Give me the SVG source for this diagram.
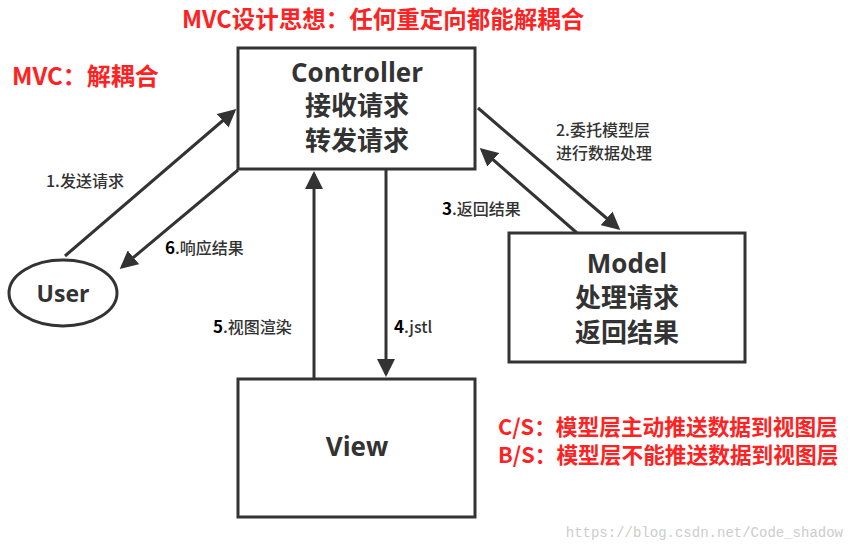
<svg xmlns="http://www.w3.org/2000/svg" width="856" height="551" viewBox="0 0 856 551">
<style>
.b{fill:#fff;stroke:#333;stroke-width:3}
.t{font-family:"Open Sans","Noto Sans CJK SC",sans-serif;font-weight:bold;fill:#333;text-anchor:middle}
.l{font-family:"Noto Sans CJK SC",sans-serif;font-size:16px;font-weight:500;fill:#333}
.r{font-family:"Noto Sans CJK SC",sans-serif;font-weight:bold;fill:#f22}
.c{stroke:#333;stroke-width:3;fill:none;marker-end:url(#a)}
</style>
<defs><marker id="a" markerWidth="6" markerHeight="6" refX="5" refY="3" orient="auto"><path d="M0,0L6,3L0,6z" fill="#333"/></marker></defs>
<rect width="856" height="551" fill="#fff"/>
<text class="r" x="182" y="28" font-size="23.5">MVC设计思想：任何重定向都能解耦合</text>
<text class="r" x="12" y="85" font-size="24">MVC：解耦合</text>
<g id="controller"><rect class="b" x="238" y="48" width="237" height="121"/>
<text class="t" x="357" y="82" font-size="26">Controller</text>
<text class="t" x="357" y="115" font-size="26">接收请求</text>
<text class="t" x="357" y="150" font-size="26">转发请求</text></g>
<g id="model"><rect class="b" x="509" y="233" width="236" height="129"/>
<text class="t" x="627" y="273" font-size="26">Model</text>
<text class="t" x="627" y="307" font-size="26">处理请求</text>
<text class="t" x="627" y="342" font-size="26">返回结果</text></g>
<g id="view"><rect class="b" x="238" y="379" width="237" height="138"/>
<text class="t" x="357" y="456" font-size="26">View</text></g>
<g id="user"><ellipse class="b" cx="63" cy="293" rx="54" ry="33"/>
<text class="t" x="63" y="302" font-size="23">User</text></g>
<g id="connectors">
<line class="c" x1="65" y1="256" x2="234" y2="111"/>
<line class="c" x1="238" y1="170" x2="122" y2="267"/>
<line class="c" x1="478" y1="108" x2="618" y2="228"/>
<line class="c" x1="577" y1="233" x2="482" y2="150"/>
<line class="c" x1="314" y1="379" x2="314" y2="174"/>
<line class="c" x1="386" y1="170" x2="386" y2="374"/>
</g>
<text class="l" x="46" y="187">1.发送请求</text>
<text class="l" x="165" y="254"><tspan font-weight="bold" fill="#000" font-size="17">6</tspan>.响应结果</text>
<text class="l" x="556" y="136">2.委托模型层</text>
<text class="l" x="556" y="159">进行数据处理</text>
<text class="l" x="442" y="215"><tspan font-weight="bold" fill="#000" font-size="17">3</tspan>.返回结果</text>
<text class="l" x="213" y="333"><tspan font-weight="bold" fill="#000" font-size="17">5</tspan>.视图渲染</text>
<text class="l" x="394" y="333"><tspan font-weight="bold" fill="#000" font-size="17">4</tspan>.jstl</text>
<text class="r" x="498" y="435" font-size="21.7">C/S：模型层主动推送数据到视图层</text>
<text class="r" x="498" y="463" font-size="21.7">B/S：模型层不能推送数据到视图层</text>
<text x="843" y="537" font-family="Liberation Mono,monospace" font-size="14" fill="#ccc" text-anchor="end">https://blog.csdn.net/Code_shadow</text>
</svg>
